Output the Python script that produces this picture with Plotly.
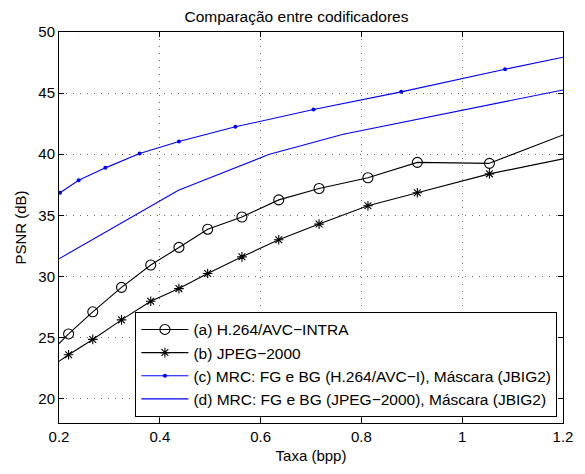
import plotly.graph_objects as go

# Data
x_ab = [0.219, 0.267, 0.324, 0.382, 0.438, 0.495, 0.563, 0.636, 0.716, 0.813, 0.911, 1.054]
y_a = [25.29, 27.1, 29.1, 30.93, 32.37, 33.86, 34.86, 36.26, 37.19, 38.07, 39.33, 39.25]
y_b = [23.58, 24.84, 26.44, 27.96, 29.0, 30.23, 31.6, 33.0, 34.28, 35.78, 36.84, 38.39]
# line continuation to the axis edge (no marker)
x_a_tail = [0.2, 0.219]
y_a_tail = [24.5, 25.29]
x_a_end = [1.054, 1.2]
y_a_end = [39.25, 41.57]
x_b_tail = [0.2, 0.219]
y_b_tail = [23.05, 23.58]
x_b_end = [1.054, 1.2]
y_b_end = [38.39, 39.62]

x_c = [0.202, 0.239, 0.292, 0.36, 0.438, 0.55, 0.705, 0.879, 1.085]
y_c = [36.84, 37.86, 38.88, 40.05, 41.04, 42.24, 43.66, 45.1, 46.95]
x_c_end = [1.085, 1.2]
y_c_end = [46.95, 47.94]

x_d = [0.2, 0.437, 0.616, 0.764, 1.2]
y_d = [31.44, 37.04, 39.97, 41.63, 45.26]

names = [
    "(a) H.264/AVC\u2212INTRA",
    "(b) JPEG\u22122000",
    "(c) MRC: FG e BG (H.264/AVC\u2212I), Máscara (JBIG2)",
    "(d) MRC: FG e BG (JPEG\u22122000), Máscara (JBIG2)",
]

x_ticks = [0.2, 0.4, 0.6, 0.8, 1.0, 1.2]
x_ticklabels = ["0.2", "0.4", "0.6", "0.8", "1", "1.2"]
y_ticks = [20, 25, 30, 35, 40, 45, 50]

BLUE = "#0000ff"
fig = go.Figure()

# tails (no legend)
for xs, ys, col in [(x_a_tail, y_a_tail, "black"), (x_a_end, y_a_end, "black"),
                    (x_b_tail, y_b_tail, "black"), (x_b_end, y_b_end, "black"),
                    (x_c_end, y_c_end, BLUE)]:
    fig.add_trace(go.Scatter(x=xs, y=ys, mode="lines", line=dict(color=col, width=1.1),
                             showlegend=False, hoverinfo="skip"))

fig.add_trace(go.Scatter(x=x_ab, y=y_a, mode="lines+markers", name=names[0],
                         line=dict(color="black", width=1.1),
                         marker=dict(symbol="circle-open", size=10, color="black", line=dict(width=1.1))))
fig.add_trace(go.Scatter(x=x_ab, y=y_b, mode="lines+markers", name=names[1],
                         line=dict(color="black", width=1.1),
                         marker=dict(symbol="asterisk-open", size=8, color="black", line=dict(width=1.1))))
fig.add_trace(go.Scatter(x=x_c, y=y_c, mode="lines+markers", name=names[2],
                         line=dict(color=BLUE, width=1.1),
                         marker=dict(symbol="circle", size=4, color=BLUE)))
fig.add_trace(go.Scatter(x=x_d, y=y_d, mode="lines", name=names[3],
                         line=dict(color=BLUE, width=1.1)))

axis_common = dict(
    showline=True, linecolor="black", linewidth=1, mirror="ticks",
    ticks="inside", ticklen=5, tickcolor="black", tickwidth=1,
    showgrid=True, gridcolor="#666666", griddash="1px,6px", gridwidth=1,
    zeroline=False, tickfont=dict(size=15, color="black"),
)

fig.update_layout(
    width=577, height=466,
    margin=dict(l=49, r=20, t=24, b=42),
    paper_bgcolor="white", plot_bgcolor="white",
    font=dict(family="Liberation Sans, Arial, sans-serif", color="black", size=15),
    title=dict(text="Comparação entre codificadores", x=0.5, xanchor="center",
               y=1 - 9 / 466, yanchor="middle", font=dict(size=15.5)),
    xaxis=dict(range=[0.2, 1.2], tickvals=x_ticks, ticktext=x_ticklabels,
               title=dict(text="Taxa (bpp)", font=dict(size=15), standoff=6), **axis_common),
    yaxis=dict(range=[18, 50], tickvals=y_ticks,
               title=dict(text="PSNR (dB)", font=dict(size=15), standoff=8), **axis_common),
    legend=dict(x=0.1516, y=0.15, xanchor="left", yanchor="middle",
                bgcolor="white", bordercolor="black", borderwidth=1,
                font=dict(size=15.5), tracegroupgap=0, itemwidth=47),
    showlegend=True,
)

fig.write_html("out.html")
